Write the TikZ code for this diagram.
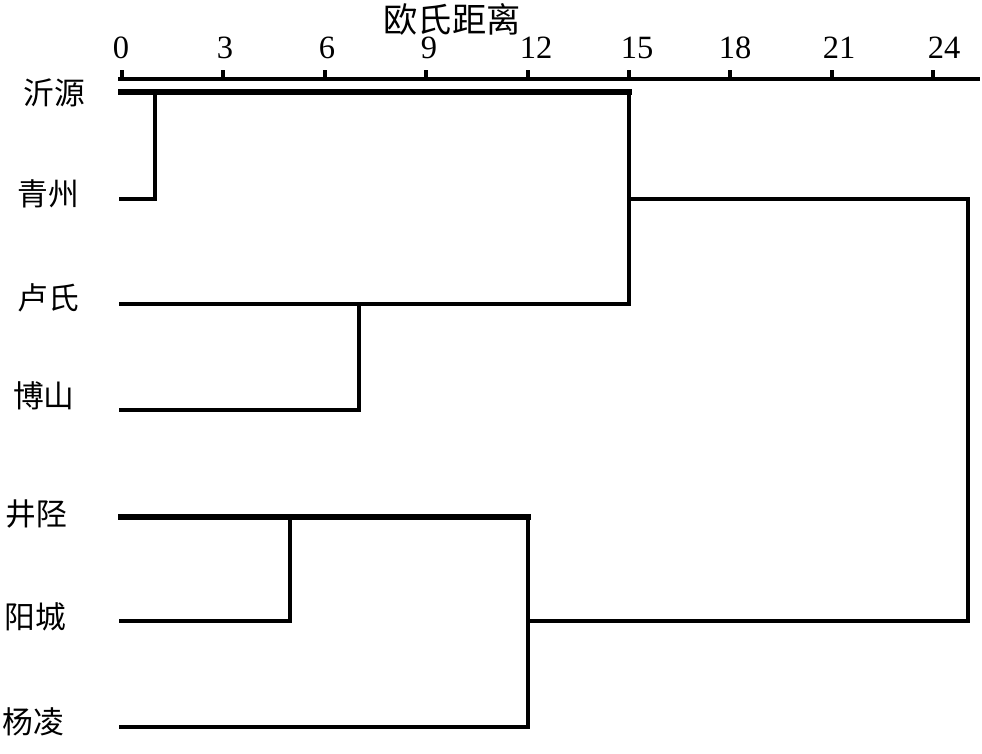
\documentclass[tikz,border=0pt]{standalone}
\usepackage{fontspec}
\setmainfont{Liberation Serif}
\newfontfamily\cjk{Noto Sans CJK SC}
\usetikzlibrary{positioning}

\begin{document}
\begin{tikzpicture}[
        x=0.02cm, y=-0.02cm,
        every node/.style={inner sep=0pt, align=center},
        leaf/.style={font=\cjk\fontsize{17.5}{18}\selectfont},
        num/.style={font=\fontsize{18.5}{19}\selectfont},
        link/.style={line width=2.2pt, line cap=rect, line join=miter},
        bold/.style={line width=3.6pt, line cap=rect, line join=miter}
    ]
    \useasboundingbox (0,0) rectangle (982,753);
    % Axis
    \node[leaf, font=\cjk\fontsize{19.5}{20}\selectfont] (title) at (452,19) {欧氏距离};
    \coordinate (axL) at (120,79);
    \coordinate (axR) at (978,79);
    \draw[link] (axL) -- (axR);
    \foreach \v/\lx in {0/121,3/225,6/327,9/429,12/536,15/637,18/735,21/839,24/944} {
        \coordinate (t\v) at ({122+\v*33.8},79);
        \draw[link, line cap=butt] (t\v) -- ++(0,-9);
        \node[num] (n\v) at (\lx,48) {\v};
    }
    % Nodes
    \node[leaf] (yiyuan)    at (54,93)  {沂源};
    \node[leaf] (qingzhou)  at (48,194) {青州};
    \node[leaf] (lushi)     at (48,298) {卢氏};
    \node[leaf] (boshan)    at (44,396) {博山};
    \node[leaf] (jingxing)  at (36,514) {井陉};
    \node[leaf] (yangcheng) at (35,617) {阳城};
    \node[leaf] (yangling)  at (33,722) {杨凌};
    \coordinate (a1) at (121,92);
    \coordinate (a2) at (121,199);
    \coordinate (a3) at (121,304);
    \coordinate (a4) at (121,410);
    \coordinate (a5) at (121,517);
    \coordinate (a6) at (121,621);
    \coordinate (a7) at (121,727);
    % Junctions
    \coordinate (j12) at (155,92);
    \coordinate (j34) at (359,304);
    \coordinate (j56) at (290,517);
    \coordinate (c15t) at (629,92);
    \coordinate (c15m) at (629,199);
    \coordinate (c15b) at (629,304);
    \coordinate (c12t) at (528,517);
    \coordinate (c12m) at (528,621);
    \coordinate (c12b) at (528,727);
    \coordinate (rootT) at (968,199);
    \coordinate (rootB) at (968,621);
    % Links
    \draw[bold] (a1) -- (c15t);
    \draw[link] (a2) -| (j12);
    \draw[link] (c15t) -- (c15b) -- (a3);
    \draw[link] (a4) -| (j34);
    \draw[bold] (a5) -- (c12t);
    \draw[link] (c12t) -- (c12b) -- (a7);
    \draw[link] (a6) -| (j56);
    \draw[link] (c15m) -- (rootT) -- (rootB) -- (c12m);
\end{tikzpicture}
\end{document}
